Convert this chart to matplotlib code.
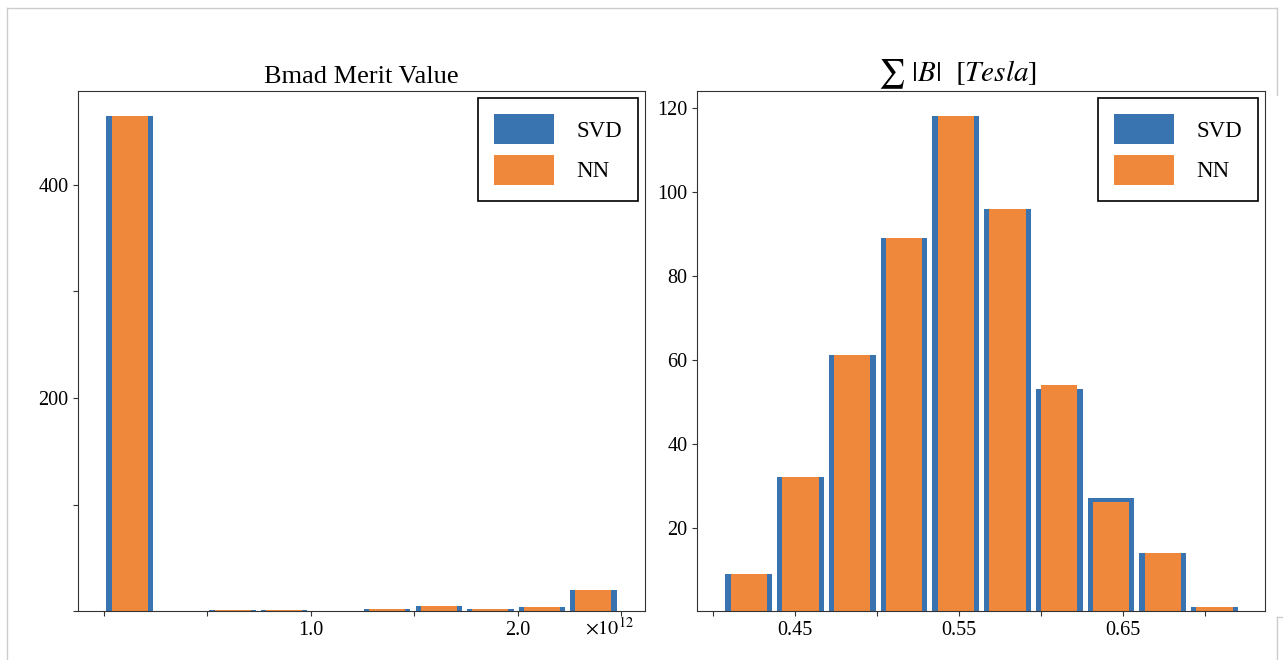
import matplotlib.pyplot as plt
from matplotlib.lines import Line2D
import numpy as np

plt.rcParams['font.family'] = ['Liberation Serif', 'DejaVu Serif']
plt.rcParams['mathtext.fontset'] = 'stix'

# Farben
blau = "#3a74b0"
orange = "#ef883a"

# Linkes Histogramm: Bmad Merit Value (10 Bins)
merit_bereich = (0.0, 2.49e12)
merit_svd = [464, 0, 1, 1, 0, 2, 5, 2, 4, 20]
merit_nn = [464, 0, 1, 1, 0, 2, 5, 2, 4, 20]
merit_xticks = [0.0, 0.5e12, 1.0e12, 1.5e12, 2.0e12, 2.5e12]
merit_xlabels = ["", "", "1.0", "", "2.0", ""]
merit_yticks = [0, 100, 200, 300, 400]
merit_ylabels = ["", "", "200", "", "400"]

# Rechtes Histogramm: Summe |B| in Tesla (10 Bins)
feld_bereich = (0.4062, 0.7215)
feld_svd = [9, 32, 61, 89, 118, 96, 53, 27, 14, 1]
feld_nn = [9, 32, 61, 89, 118, 96, 54, 26, 14, 1]
feld_xticks = [0.40, 0.45, 0.50, 0.55, 0.60, 0.65, 0.70]
feld_xlabels = ["", "0.45", "", "0.55", "", "0.65", ""]
feld_yticks = [20, 40, 60, 80, 100, 120]


def histogramm(ax, bereich, svd, nn):
    kanten = np.histogram_bin_edges([], bins=len(svd), range=bereich)
    mitten = (kanten[:-1] + kanten[1:]) / 2
    ax.hist(mitten, bins=kanten, weights=svd, rwidth=0.9, color=blau, label="SVD")
    ax.hist(mitten, bins=kanten, weights=nn, rwidth=0.7, color=orange, label="NN")
    leg = ax.legend(loc="upper right", fontsize=16.5, fancybox=False, framealpha=1,
                    edgecolor="black", handlelength=2.6, handleheight=1.64,
                    handletextpad=1.0, borderpad=0.7, borderaxespad=0.3,
                    labelspacing=0.45)
    leg.get_frame().set_linewidth(1.2)
    for seite in ax.spines.values():
        seite.set_color("#333333")
    ax.tick_params(labelsize=14.5, colors="#333333", labelcolor="black")


fig = plt.figure(figsize=(12.83, 6.6), dpi=100)
ax1 = fig.add_axes([0.0608, 0.0735, 0.4419, 0.7879])
ax2 = fig.add_axes([0.5433, 0.0735, 0.4427, 0.7879])

histogramm(ax1, merit_bereich, merit_svd, merit_nn)
ax1.set_xlim(-0.1245e12, 2.6145e12)
ax1.set_xticks(merit_xticks)
ax1.set_xticklabels(merit_xlabels)
ax1.set_yticks(merit_yticks)
ax1.set_yticklabels(merit_ylabels)
ax1.set_title("Bmad Merit Value", fontsize=19)
ax1.annotate(r"$\times10^{12}$", xy=(0.938, 0), xycoords="axes fraction",
             xytext=(0, -16.5), textcoords="offset points",
             ha="center", va="baseline", fontsize=14.5)

histogramm(ax2, feld_bereich, feld_svd, feld_nn)
ax2.set_xlim(0.3905, 0.7365)
ax2.set_xticks(feld_xticks)
ax2.set_xticklabels(feld_xlabels)
ax2.set_yticks(feld_yticks)
ax2.set_title(r"$\sum\ |B|\ \ [Tesla]$", fontsize=21, x=0.458)

# heller Rahmen wie im Notebook-Screenshot
grau = "#cccccc"
fig.add_artist(Line2D([7 / 1283, 1277 / 1283], [1 - 8 / 660, 1 - 8 / 660], color=grau, lw=1))
fig.add_artist(Line2D([7 / 1283, 7 / 1283], [0, 1 - 8 / 660], color=grau, lw=1))
fig.add_artist(Line2D([1277 / 1283, 1277 / 1283], [1 - 8 / 660, 1 - 95 / 660], color=grau, lw=1))
fig.add_artist(Line2D([1277 / 1283, 1277 / 1283], [0, 1 - 617 / 660], color=grau, lw=1))
fig.add_artist(Line2D([1277 / 1283, 1], [1 - 617 / 660, 1 - 617 / 660], color=grau, lw=1))

plt.savefig("out.png", dpi=100)
